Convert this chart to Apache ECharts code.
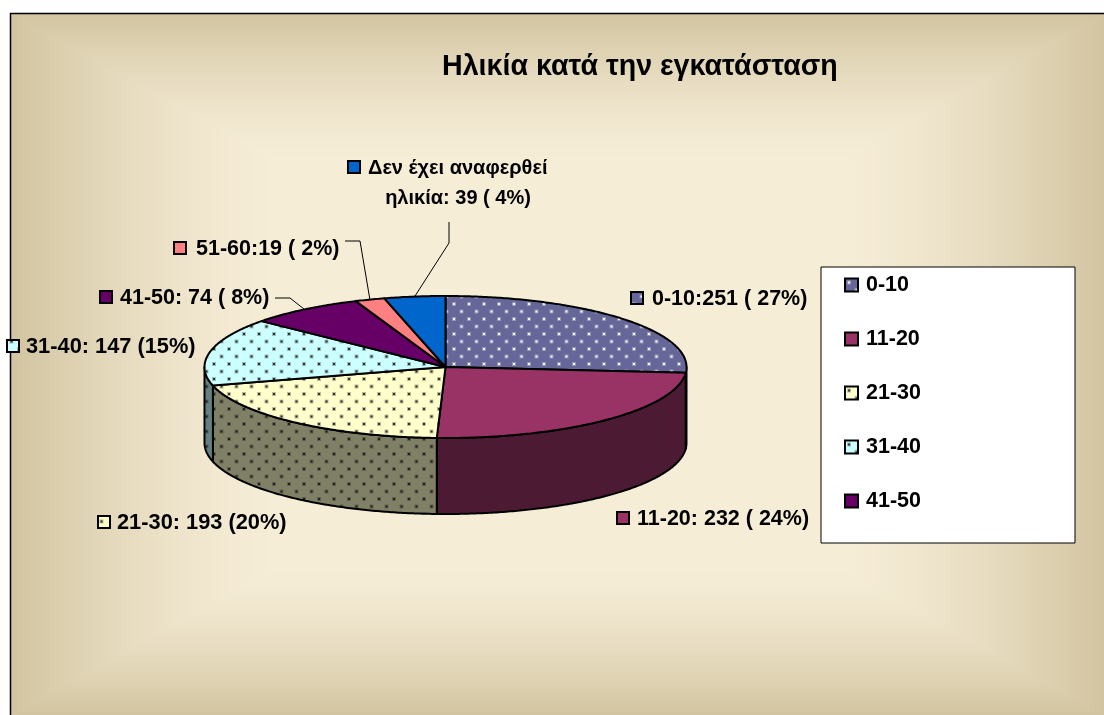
<!DOCTYPE html>
<html>
<head>
<meta charset="utf-8">
<style>html,body{margin:0;padding:0;background:#fff}#main{width:1104px;height:715px}</style>
<script src="https://cdn.jsdelivr.net/npm/echarts@6/dist/echarts.min.js"></script>
</head>
<body>
<div id="main"></div>
<script>
// ---- data ----
const titleText = 'Ηλικία κατά την εγκατάσταση';
const categories = ['0-10', '11-20', '21-30', '31-40', '41-50', '51-60', 'Δεν έχει αναφερθεί ηλικία'];
const values = [251, 232, 193, 147, 74, 19, 39];
const labelTexts = [
  '0-10:251 ( 27%)',
  '11-20: 232 ( 24%)',
  '21-30: 193 (20%)',
  '31-40: 147 (15%)',
  '41-50: 74 ( 8%)',
  '51-60:19 ( 2%)',
  'Δεν έχει αναφερθεί\nηλικία: 39 ( 4%)'
];
const legendNames = ['0-10', '11-20', '21-30', '31-40', '41-50'];

// ---- styles / layout ----
const topColors = ['#666699', '#993366', '#FFFFCC', '#CCFFFF', '#660066', '#FF8080', '#0066CC'];
const wallColors = ['#333366', '#4D1A33', '#808066', '#668080', '#330033', '#804040', '#003366'];
const dotColors = ['#ffffff', null, '#222222', '#222222', null, null, null];
const wallDotColors = ['#cccccc', null, '#1a1a1a', '#1a1a1a', null, null, null];
const pie = { cx: 445.5, cy: 367, rx: 241, ry: 71, depth: 76 };
// marker left x, text left x, centre y and font size of each outside label
const labelLayout = [
  { mx: 631, tx: 652, y: 299, size: 21.5 },
  { mx: 617, tx: 637, y: 519, size: 21.5 },
  { mx: 98, tx: 117, y: 523, size: 21.8 },
  { mx: 7, tx: 26, y: 347, size: 21.8 },
  { mx: 100, tx: 120, y: 298, size: 21.5 },
  { mx: 174, tx: 196, y: 249, size: 21.5 },
  { mx: 348, tx: 368, y: 168, center2: 458, gap: 30, size: 20 }
];
// leader line knees, ending on the slice rim
const leaders = { 4: [[275, 298], [290, 298]], 5: [[345, 241], [360, 241]], 6: [[449, 222], [449, 243]] };

function dotted(bg, dot) {
  if (!dot) return bg;
  const c = document.createElement('canvas');
  c.width = 15; c.height = 15;
  const g = c.getContext('2d');
  g.fillStyle = bg; g.fillRect(0, 0, 15, 15);
  g.fillStyle = dot;
  [[3, 3], [10.5, 10.5]].forEach(([x, y]) => {
    g.globalAlpha = 0.3; g.fillRect(x - 1, y - 1, 4, 4);
    g.globalAlpha = 0.9; g.fillRect(x, y, 2, 2);
  });
  return { image: c, repeat: 'repeat' };
}

function makeBackground(w, h) {
  const c = document.createElement('canvas');
  c.width = w; c.height = h;
  const g = c.getContext('2d');
  const img = g.createImageData(w, h);
  const a = [210, 196, 160], b = [246, 237, 215];
  for (let y = 0; y < h; y++) {
    for (let x = 0; x < w; x++) {
      const dx = Math.min(x, w - x) / 270, dy = Math.min(y, h - y) / 150;
      const u = Math.min(1, dx, dy);
      const t = 1 - Math.pow(1 - u, 1.5);
      const i = (y * w + x) * 4;
      for (let k = 0; k < 3; k++) img.data[i + k] = a[k] + (b[k] - a[k]) * t;
      img.data[i + 3] = 255;
    }
  }
  g.putImageData(img, 0, 0);
  return c;
}

const total = values.reduce((s, v) => s + v, 0);
const TAU = Math.PI * 2;
function rim(theta, dy) {
  return [pie.cx + pie.rx * Math.sin(theta), pie.cy - pie.ry * Math.cos(theta) + (dy || 0)];
}
function arcPoints(a0, a1, dy) {
  const n = Math.max(2, Math.ceil(Math.abs(a1 - a0) / 0.01));
  const pts = [];
  for (let i = 0; i <= n; i++) pts.push(rim(a0 + (a1 - a0) * i / n, dy));
  return pts;
}

let acc = 0;
const seriesList = categories.map((name, idx) => {
  const start = acc; acc += values[idx];
  return {
    type: 'custom',
    name,
    coordinateSystem: 'none',
    silent: true,
    z: 3,
    itemStyle: { color: dotted(topColors[idx], dotColors[idx]) },
    data: [[values[idx], start]],
    renderItem(params, api) {
      const v = api.value(0), s = api.value(1);
      const a0 = s / total * TAU, a1 = (s + v) / total * TAU;
      const children = [];
      const wa0 = Math.max(a0, Math.PI / 2), wa1 = Math.min(a1, Math.PI * 1.5);
      if (wa1 > wa0) {
        const upper = arcPoints(wa0, wa1, 0);
        const lower = arcPoints(wa1, wa0, pie.depth);
        children.push({
          type: 'polygon',
          shape: { points: upper.concat(lower) },
          style: { fill: dotted(wallColors[idx], wallDotColors[idx]), stroke: '#000', lineWidth: 2, lineJoin: 'round' }
        });
      }
      children.push({
        type: 'polygon',
        shape: { points: [[pie.cx, pie.cy]].concat(arcPoints(a0, a1, 0)) },
        style: { fill: dotted(topColors[idx], dotColors[idx]), stroke: '#000', lineWidth: 2, lineJoin: 'round' }
      });
      // leader line
      if (leaders[idx]) {
        children.push({
          type: 'polyline',
          shape: { points: leaders[idx].concat([rim((a0 + a1) / 2, 0)]) },
          style: { fill: null, stroke: '#000', lineWidth: 1 }
        });
      }
      // label with marker
      const L = labelLayout[idx];
      const font = 'bold ' + L.size + 'px "Liberation Sans", Arial, sans-serif';
      children.push({
        type: 'rect',
        shape: { x: L.mx, y: L.y - 7, width: 12, height: 12 },
        style: { fill: dotted(topColors[idx], dotColors[idx]), stroke: '#000', lineWidth: 2 }
      });
      const lines = labelTexts[idx].split('\n');
      lines.forEach((t, i) => {
        children.push({
          type: 'text',
          style: i === 0
            ? { x: L.tx, y: L.y, text: t, font, fill: '#000', textAlign: 'left', textVerticalAlign: 'middle' }
            : { x: L.center2, y: L.y + L.gap, text: t, font, fill: '#000', textAlign: 'center', textVerticalAlign: 'middle' }
        });
      });
      return { type: 'group', children };
    }
  };
});

const chart = echarts.init(document.getElementById('main'), null, { renderer: 'canvas' });
chart.setOption({
  animation: false,
  backgroundColor: '#ffffff',
  title: {
    text: titleText,
    left: 442, top: 53, padding: 0,
    textStyle: { fontFamily: '"Liberation Sans", Arial, sans-serif', fontWeight: 'bold', fontSize: 28.6, color: '#000' }
  },
  legend: {
    orient: 'vertical',
    left: 821, top: 267,
    padding: [7, 154, 31, 23],
    data: legendNames,
    icon: 'rect',
    itemWidth: 13, itemHeight: 13,
    itemGap: 32,
    backgroundColor: '#fff',
    borderColor: '#000',
    borderWidth: 1,
    itemStyle: { borderColor: '#000', borderWidth: 2 },
    textStyle: { fontFamily: '"Liberation Sans", Arial, sans-serif', fontWeight: 'bold', fontSize: 21.5, color: '#000', padding: [0, 0, 0, 3] },
    selectedMode: false
  },
  graphic: [
    { type: 'image', z: -10, silent: true, left: 10, top: 13, style: { image: makeBackground(1094, 702), x: 0, y: 0, width: 1094, height: 702 } },
    { type: 'rect', z: -9, silent: true, shape: { x: 10.5, y: 13.5, width: 1200, height: 800 }, style: { fill: null, stroke: '#000', lineWidth: 1.5 } }
  ],
  series: seriesList
});
</script>
</body>
</html>
